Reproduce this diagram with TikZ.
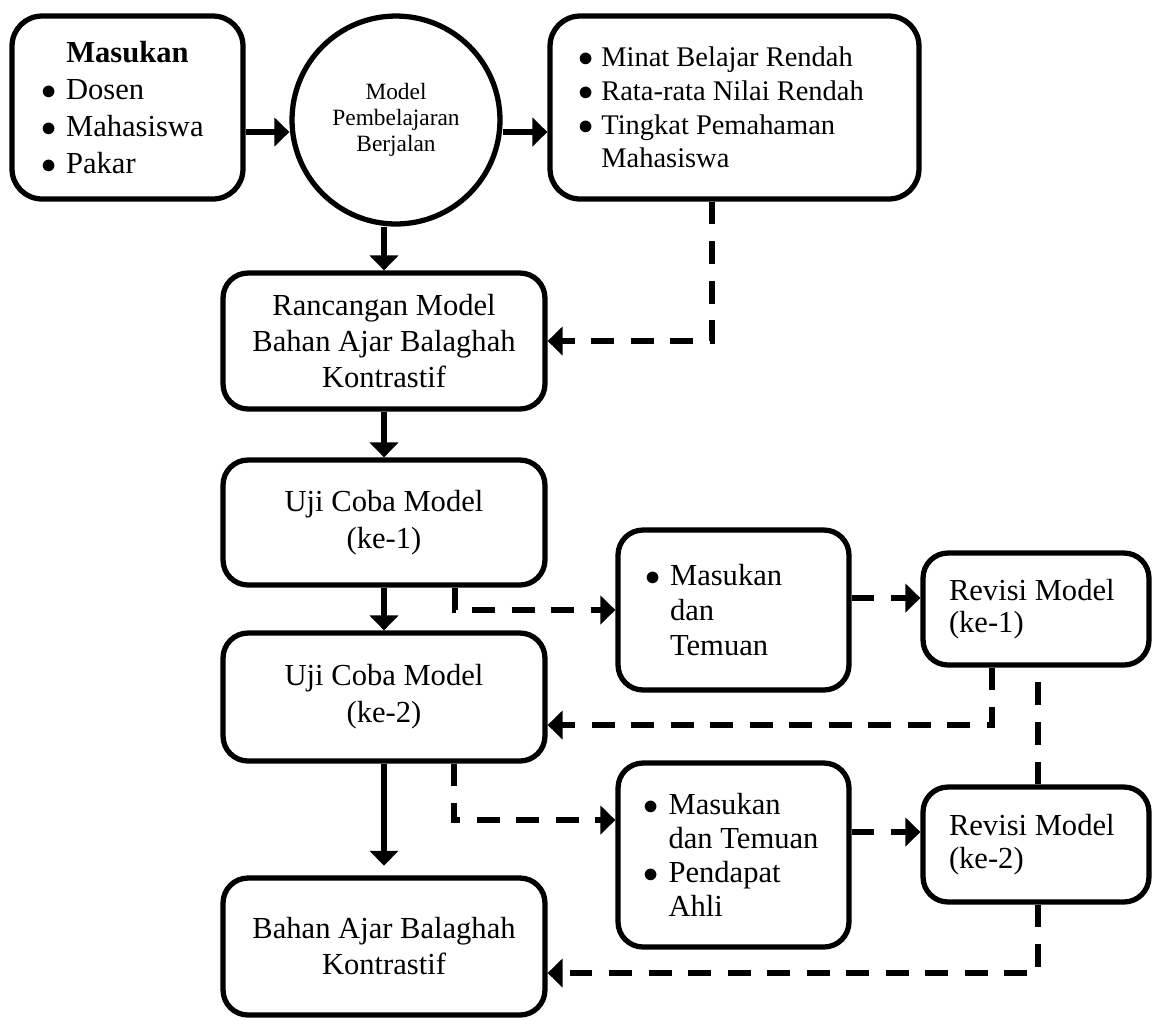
\documentclass[tikz,border=0pt]{standalone}
\usepackage{fontspec}
\setmainfont{Liberation Serif}
\usetikzlibrary{arrows.meta}

\newcommand{\butir}{\makebox[0.82em][l]{$\bullet$}}
\newcommand{\sela}{\hspace*{0.82em}}

\begin{document}
\begin{tikzpicture}[x=0.02cm, y=-0.02cm,
    kotak/.style={draw, line width=3pt, rounded corners=0.5cm, inner sep=0pt,
        font=\fontsize{17.4}{20.5}\selectfont, align=center},
    daftar/.style={kotak, align=flush left},
    panah/.style={line width=3pt, -{Triangle[length=8.5pt, width=16pt]}},
    putus/.style={panah, dash pattern=on 13pt off 9.5pt},
    garis/.style={line width=3pt, dash pattern=on 13pt off 9.5pt}]

    % Rahmen
    \useasboundingbox (0,0) rectangle (1156,1019);

    % Obere Reihe
    \node[daftar, minimum width=4.62cm, minimum height=3.66cm, rounded corners=0.6cm,
        text width=3.46cm, font=\fontsize{17.4}{21.2}\selectfont]
        (masukan) at (127.5,107.5)
        {\makebox[\linewidth]{\textbf{Masukan}}\\ \butir Dosen\\ \butir Mahasiswa\\ \butir Pakar};
    \node[kotak, circle, minimum size=4.16cm, font=\fontsize{13.3}{15}\selectfont]
        (model) at (396,120) {Model\\Pembelajaran\\Berjalan};
    \node[daftar, minimum width=7.38cm, minimum height=3.66cm, rounded corners=0.6cm,
        text width=6.26cm, font=\fontsize{16.2}{19.2}\selectfont]
        (kendala) at (734.5,107.5)
        {\butir Minat Belajar Rendah\\ \butir Rata-rata Nilai Rendah\\ \butir Tingkat Pemahaman\\ \sela Mahasiswa};

    % Linke Spalte
    \node[kotak, minimum width=6.44cm, minimum height=2.72cm] (rancangan) at (384,341)
        {Rancangan Model\\Bahan Ajar Balaghah\\Kontrastif};
    \node[kotak, minimum width=6.44cm, minimum height=2.5cm, font=\fontsize{17.4}{21}\selectfont]
        (uji1) at (384,522.5) {Uji Coba Model\\(ke-1)};
    \node[kotak, minimum width=6.44cm, minimum height=2.56cm, font=\fontsize{17.4}{21}\selectfont]
        (uji2) at (384,697) {Uji Coba Model\\(ke-2)};
    \node[kotak, minimum width=6.44cm, minimum height=2.74cm] (bahan) at (384,946.5)
        {Bahan Ajar Balaghah\\Kontrastif};

    % Rechte Spalten
    \node[daftar, minimum width=4.62cm, minimum height=3.2cm, text width=3.54cm,
        font=\fontsize{17.4}{20}\selectfont]
        (temuan1) at (733.5,610) {\butir Masukan\\ \sela dan\\ \sela Temuan};
    \node[daftar, minimum width=4.52cm, minimum height=2.24cm, text width=3.48cm,
        font=\fontsize{17.4}{18.5}\selectfont]
        (revisi1) at (1036,609) {Revisi Model\\(ke-1)};
    \node[daftar, minimum width=4.62cm, minimum height=3.68cm, text width=3.6cm,
        font=\fontsize{17.4}{19.3}\selectfont]
        (temuan2) at (733.5,855) {\butir Masukan\\ \sela dan Temuan\\ \butir Pendapat\\ \sela Ahli};
    \node[daftar, minimum width=4.52cm, minimum height=2.3cm, text width=3.48cm,
        font=\fontsize{17.4}{18.8}\selectfont]
        (revisi2) at (1036,844.5) {Revisi Model\\(ke-2)};

    % Durchgehende Pfeile
    \draw[panah] ([yshift=-0.49cm]masukan.east) -- ([yshift=-0.49cm]masukan.east -| model.west);
    \draw[panah] ([yshift=-0.24cm]model.east) -- ([yshift=-0.24cm]model.east -| kendala.west);
    \draw[panah] (model.south -| rancangan.north) -- (rancangan.north);
    \foreach \a/\b in {rancangan/uji1, uji1/uji2} {
        \draw[panah] (\a) -- (\b);
    }
    \draw[panah, shorten >=5.5pt] (uji2) -- (bahan);

    % Gestrichelte Pfeile
    \draw[putus] ([xshift=-0.45cm]kendala.south) |- (rancangan.east);
    \draw[putus] ([xshift=1.42cm]uji1.south) |- (temuan1.west);
    \draw[putus] ([yshift=0.24cm]temuan1.east) -- ([yshift=0.24cm]temuan1.east -| revisi1.west);
    \draw[putus] ([xshift=-0.88cm]revisi1.south) |- ([yshift=-0.56cm]uji2.east);
    \draw[garis] ([xshift=0.04cm]revisi2.north) -- ([xshift=0.04cm]revisi2.north |- revisi1.south);
    \draw[putus] ([xshift=1.4cm]uji2.south) |- ([yshift=0.7cm]temuan2.west);
    \draw[putus] ([yshift=0.46cm]temuan2.east) -- ([yshift=0.46cm]temuan2.east -| revisi2.west);
    \draw[putus] ([xshift=0.04cm]revisi2.south) |- ([yshift=-0.53cm]bahan.east);
\end{tikzpicture}
\end{document}
